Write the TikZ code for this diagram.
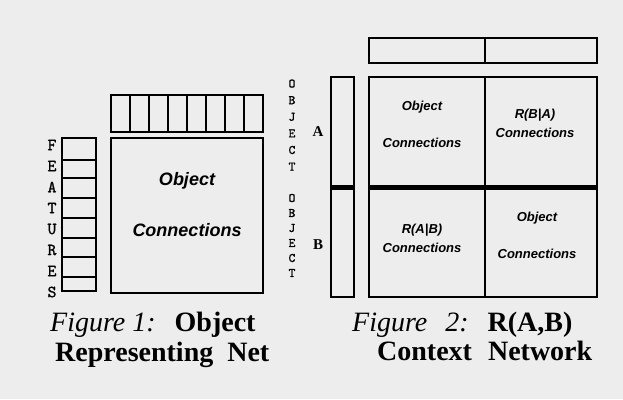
\documentclass[tikz,border=0pt]{standalone}
\usepackage{fontspec}
\setmainfont{Liberation Serif}
\newfontfamily\labelfont{Liberation Sans}
\newfontfamily\typefont[Extension=.otf,FakeBold=1.2]{lmmono10-regular}

\begin{document}
\begin{tikzpicture}[x=1pt,y=-1pt,
	boxline/.style	=	{draw=black,line width=2.8pt},
	divider/.style	=	{draw=black,line width=#1},
	conn/.style		=	{font=\labelfont\bfseries\itshape\fontsize{#1}{#1}\selectfont,inner sep=0pt},
	letter/.style	=	{font=\typefont\fontsize{#1}{#1}\selectfont,inner sep=0pt},
	caption/.style	=	{font=\fontsize{28}{28}\selectfont,anchor=base west,inner sep=0pt}]

	\useasboundingbox[fill=black!7] (0,0) rectangle (623,399);

	% Figure 1: object representing net
	\begin{scope}
		\coordinate (strip nw) at (111,95);
		\coordinate (strip se) at (263,132);
		\coordinate (net nw) at (111,138);
		\coordinate (net se) at (263,293);

		\draw[boxline] (strip nw) rectangle (strip se);
		\foreach \x in {130,149,...,244}
			\draw[divider=2.4pt] (\x,95) -- (\x,132);

		\draw[boxline] (net nw) rectangle (net se);

		\draw[boxline] (62,138) rectangle (96,291);
		\foreach \y in {160,178,198,218,238,257,277}
			\draw[divider=2.8pt] (62,\y) -- (96,\y);

		\foreach \l [count=\k] in {F,E,A,T,U,R,E,S}
			\node[letter=17] (feature\k) at (52,{124+\k*21}) {\l};

		\node[conn=18] (obj one) at (187,181) {Object};
		\node[conn=18] (conn one) at (187,230) {Connections};
	\end{scope}

	% Figure 2: context network
	\begin{scope}
		\draw[boxline] (369,38) rectangle (597,63);
		\draw[divider=2pt] (485,38) -- (485,63);

		\draw[boxline] (331,77) rectangle (354,297);
		\draw[divider=5pt] (331,187.5) -- (354,187.5);

		\draw[boxline] (369,77) rectangle (597,297);
		\draw[divider=2pt] (485,77) -- (485,297);
		\draw[divider=5pt] (369,187.5) -- (597,187.5);

		\foreach \l [count=\k] in {O,B,J,E,C,T}
			\node[letter=13] (obj a\k) at (292,{67+\k*16.6}) {\l};
		\foreach \l [count=\k] in {O,B,J,E,C,T}
			\node[letter=13] (obj b\k) at (292,{183+\k*15}) {\l};
		\node[font=\bfseries\fontsize{15}{15}\selectfont] (label a) at (318,132) {A};
		\node[font=\bfseries\fontsize{15}{15}\selectfont] (label b) at (318,245) {B};

		\node[conn=13] (obj aa) at (422,107) {Object};
		\node[conn=13] (conn aa) at (422,143) {Connections};
		\node[conn=13] (rba) at (535,115) {R(B|A)};
		\node[conn=13] (conn ba) at (535,133) {Connections};
		\node[conn=13] (rab) at (422,230) {R(A|B)};
		\node[conn=13] (conn ab) at (422,248) {Connections};
		\node[conn=13] (obj bb) at (537,218) {Object};
		\node[conn=13] (conn bb) at (537,254) {Connections};
	\end{scope}

	% captions
	\node[caption] (cap one a) at (50,331) {\textit{Figure 1:}\hspace{19pt}\textbf{Object}};
	\node[caption] (cap one b) at (55,361) {\textbf{Representing}\hspace{14pt}\textbf{Net}};
	\node[caption] (cap two a) at (352,331) {\textit{Figure}\hspace{18pt}\textit{2:}\hspace{19pt}\textbf{R(A,B)}};
	\node[caption] (cap two b) at (377,360) {\textbf{Context}\hspace{16pt}\textbf{Network}};
\end{tikzpicture}
\end{document}
